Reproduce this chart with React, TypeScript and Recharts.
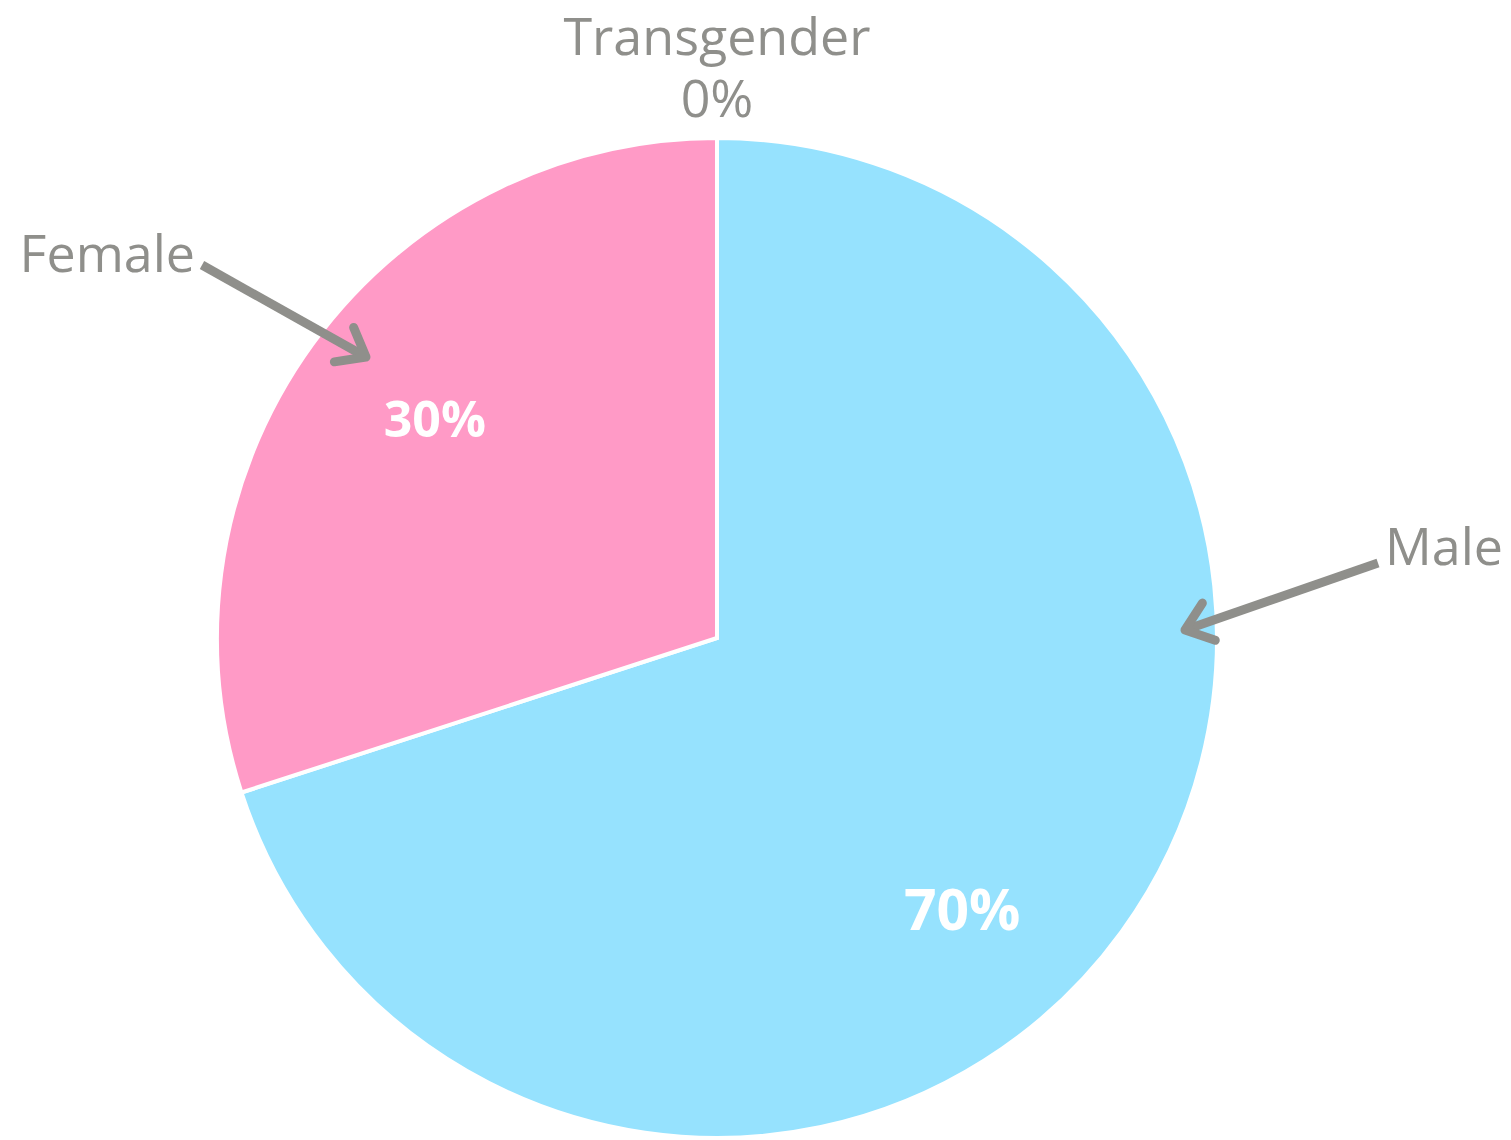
import React from 'react';
import { PieChart, Pie, Cell } from 'recharts';

const categories = ['Male', 'Female', 'Transgender'];
const values = [70, 30, 0];
const colors = ['#96E2FE', '#FF9AC6', '#FF9AC6'];

const data = categories.map((name, i) => ({ name, value: values[i] }));

const GRAY = '#8F8F8B';
const FONT = '"Open Sans", "Noto Sans", sans-serif';

// annotation layout, in units of outer radius relative to pie centre
const pctLayout: Record<string, { ang: number; r: number; size: number }> = {
  Male: { ang: -47.8, r: 0.73, size: 57 },
  Female: { ang: 142, r: 0.716, size: 50 },
};

const nameLayout: Record<string, any> = {
  Male: { tx: 1.336, ty: -0.146, anchor: 'start', arrow: [1.322, -0.15, 0.936, -0.016] },
  Female: { tx: -1.044, ty: -0.732, anchor: 'end', arrow: [-1.03, -0.746, -0.702, -0.562] },
  Transgender: { tx: 0, ty: -1.166, anchor: 'middle', pct: true },
};

const RAD = Math.PI / 180;

function Arrow({ x1, y1, x2, y2 }: { x1: number; y1: number; x2: number; y2: number }) {
  const a = Math.atan2(y1 - y2, x1 - x2);
  const len = 32;
  const spread = 38 * RAD;
  const p1 = [x2 + len * Math.cos(a + spread), y2 + len * Math.sin(a + spread)];
  const p2 = [x2 + len * Math.cos(a - spread), y2 + len * Math.sin(a - spread)];
  return (
    <g stroke={GRAY} strokeWidth={9} strokeLinecap="round" strokeLinejoin="round" fill="none">
      <line x1={x1} y1={y1} x2={x2} y2={y2} strokeLinecap="butt" />
      <polyline points={`${p1[0]},${p1[1]} ${x2},${y2} ${p2[0]},${p2[1]}`} />
    </g>
  );
}

const renderLabel = (props: any) => {
  const { cx, cy, outerRadius, payload, percent } = props;
  const name = payload?.name ?? props.name;
  const R = outerRadius;
  const pctText = `${Math.round((percent || 0) * 100)}%`;
  const items: React.ReactNode[] = [];
  const pl = pctLayout[name];
  if (pl) {
    const x = cx + pl.r * R * Math.cos(pl.ang * RAD);
    const y = cy - pl.r * R * Math.sin(pl.ang * RAD);
    items.push(
      <text key="p" x={x} y={y} fill="#FFFFFF" fontFamily={FONT} fontWeight={700} fontSize={pl.size}
        textAnchor="middle" dominantBaseline="central">{pctText}</text>
    );
  }
  const nl = nameLayout[name];
  if (nl) {
    const tx = cx + nl.tx * R;
    const ty = cy + nl.ty * R;
    items.push(
      <text key="n" x={tx} y={ty} fill={GRAY} fontFamily={FONT} fontSize={52} textAnchor={nl.anchor}>{name}</text>
    );
    if (nl.pct) {
      items.push(
        <text key="np" x={tx} y={ty + 0.124 * R} fill={GRAY} fontFamily={FONT} fontSize={52} textAnchor={nl.anchor}>{pctText}</text>
      );
    }
    if (nl.arrow) {
      const [a, b, c, d] = nl.arrow;
      items.push(<Arrow key="a" x1={cx + a * R} y1={cy + b * R} x2={cx + c * R} y2={cy + d * R} />);
    }
  }
  return <g>{items}</g>;
};

export default function App() {
  return (
    <div style={{ position: 'absolute', left: 0, top: 0, background: '#fff' }}>
      <PieChart width={1511} height={1140} margin={{ top: 0, right: 0, bottom: 0, left: 0 }}>
        <Pie
          data={data}
          dataKey="value"
          nameKey="name"
          cx={717}
          cy={638}
          outerRadius={500}
          startAngle={90}
          endAngle={-270}
          stroke="#FFFFFF"
          strokeWidth={4}
          label={renderLabel}
          labelLine={false}
          isAnimationActive={false}
        >
          {data.map((d, i) => (
            <Cell key={d.name} fill={colors[i]} />
          ))}
        </Pie>
      </PieChart>
    </div>
  );
}
